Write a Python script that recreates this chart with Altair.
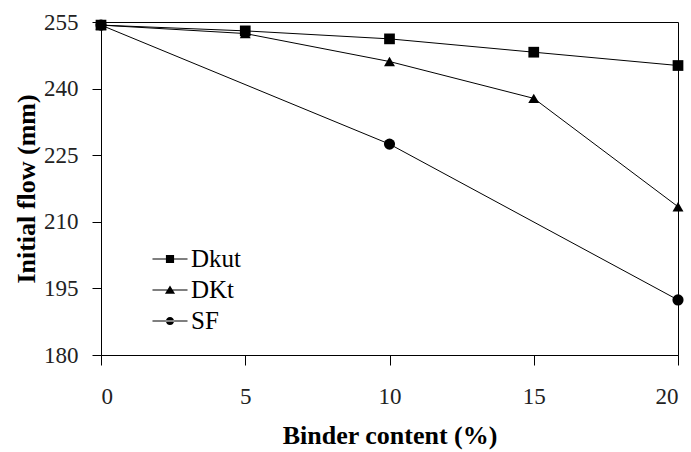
import altair as alt
import pandas as pd

# Binder content (%) and initial flow (mm) for each binder type
binder = [0, 5, 10, 15, 20]
dkut_flow = [254.3, 253.0, 251.2, 248.2, 245.2]
dkt_flow = [254.3, 252.4, 246.1, 237.8, 213.4]
sf_binder = [0, 10, 20]
sf_flow = [254.3, 227.5, 192.4]

series = ["Dkut", "DKt", "SF"]

rows = []
for x, y in zip(binder, dkut_flow):
    rows.append({"binder": x, "flow": y, "series": "Dkut"})
for x, y in zip(binder, dkt_flow):
    rows.append({"binder": x, "flow": y, "series": "DKt"})
for x, y in zip(sf_binder, sf_flow):
    rows.append({"binder": x, "flow": y, "series": "SF"})
df = pd.DataFrame(rows)

FONT = "Liberation Serif"

x_enc = alt.X(
    "binder:Q",
    scale=alt.Scale(domain=[0, 20], nice=False, zero=False),
    axis=alt.Axis(
        title="Binder content (%)",
        values=[0, 5, 10, 15, 20],
        format="d",
        grid=False,
        tickSize=10,
        labelPadding=20,
        titlePadding=14,
    ),
)
y_enc = alt.Y(
    "flow:Q",
    scale=alt.Scale(domain=[180, 255], nice=False, zero=False),
    axis=alt.Axis(
        title="Initial flow (mm)",
        values=[180, 195, 210, 225, 240, 255],
        format="d",
        grid=False,
        tickSize=9,
        labelPadding=14,
        titlePadding=4,
    ),
)

lines = alt.Chart(df).mark_line(color="black", strokeWidth=1).encode(
    x=x_enc, y=y_enc, detail="series:N", order="binder:Q"
)

points = alt.Chart(df).mark_point(filled=True, color="black", opacity=1).encode(
    x=x_enc,
    y=y_enc,
    shape=alt.Shape(
        "series:N",
        scale=alt.Scale(domain=series, range=["square", "triangle-up", "circle"]),
        legend=None,
    ),
    size=alt.Size(
        "series:N",
        scale=alt.Scale(domain=series, range=[115, 125, 70]),
        legend=None,
    ),
)

# Legend entries: a thin bar (the line) with the series marker on it
bar = "M-1.46,-0.045H1.46V0.045H-1.46Z"
legend_paths = [
    bar + "M-0.34,-0.34H0.34V0.34H-0.34Z",
    bar + "M0,-0.38L0.42,0.32H-0.42Z",
    bar + "M-0.34,0A0.34,0.34 0 1,0 0.34,0A0.34,0.34 0 1,0 -0.34,0Z",
]

legend_layer = alt.Chart(df).mark_point(
    filled=True, color="black", opacity=0
).encode(
    x=x_enc,
    y=y_enc,
    shape=alt.Shape(
        "series:N",
        scale=alt.Scale(domain=series, range=legend_paths),
        legend=alt.Legend(
            title=None,
            orient="none",
            legendX=56,
            legendY=224,
            symbolSize=576,
            symbolOpacity=1,
            symbolFillColor="black",
            labelFont=FONT,
            labelFontSize=25,
            labelColor="black",
            labelOffset=8,
            rowPadding=5,
            padding=0,
        ),
    ),
)

chart = (
    alt.layer(lines, points, legend_layer)
    .resolve_scale(shape="independent")
    .properties(
        width=577,
        height=333,
        background="white",
        autosize=alt.AutoSizeParams(type="none"),
        padding={"left": 101, "top": 22, "right": 13, "bottom": 97},
    )
    .configure_view(stroke="black", strokeWidth=1)
    .configure_axis(
        domainColor="black",
        domainWidth=1,
        tickColor="black",
        tickWidth=1,
        labelFont=FONT,
        labelFontSize=23,
        labelColor="#222222",
        titleFont=FONT,
        titleFontSize=26,
        titleFontWeight="bold",
        titleColor="black",
    )
)

chart.save("out.html", embed_options={"renderer": "svg", "actions": False})
